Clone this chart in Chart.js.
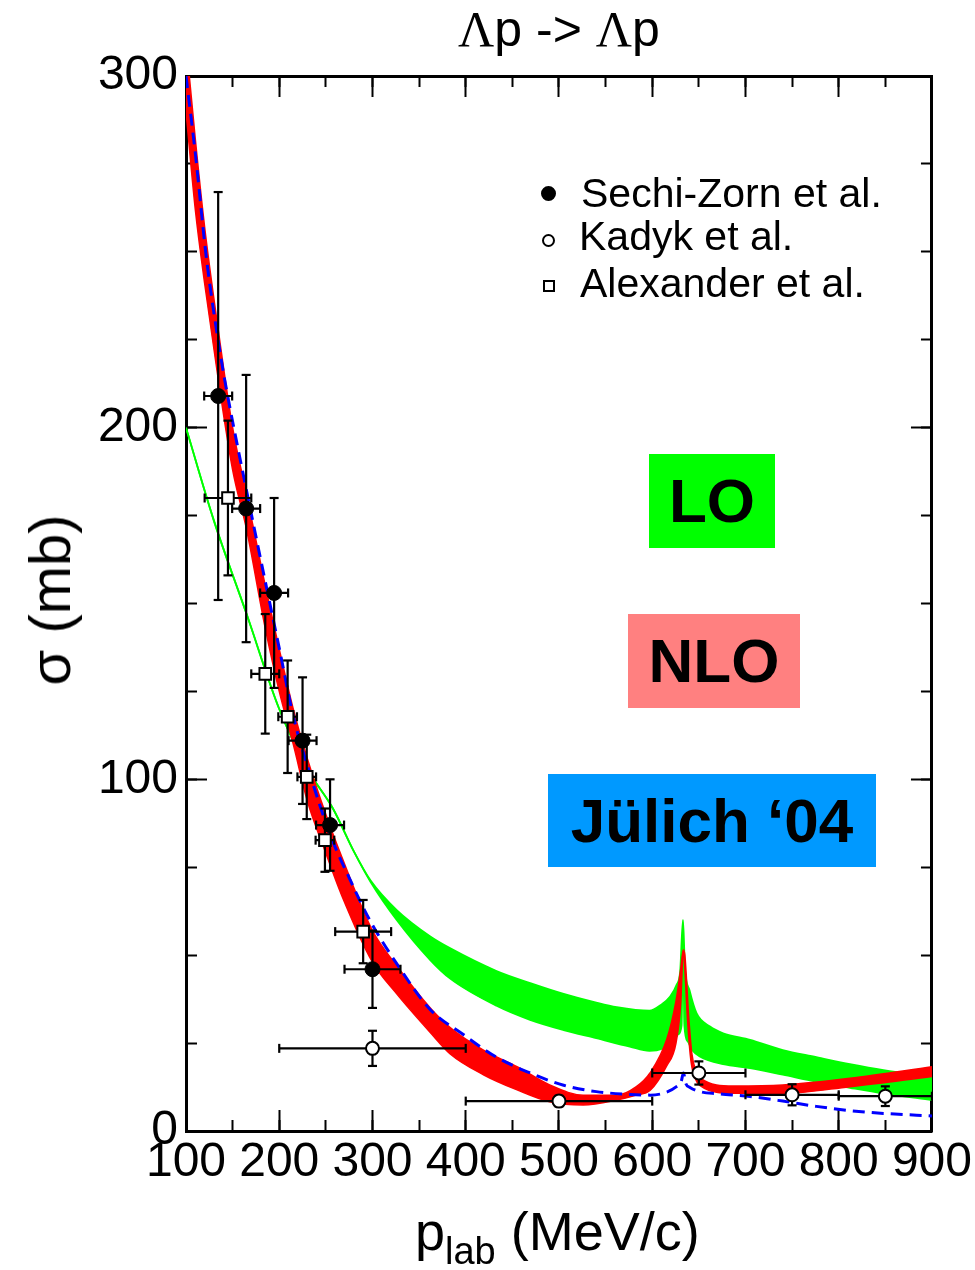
<!DOCTYPE html>
<html lang="es">
<head>
<meta charset="utf-8">
<title>Λp -> Λp</title>
<script src="https://cdn.jsdelivr.net/npm/chart.js@4.4.1/dist/chart.umd.min.js"></script>
<style>
  body { margin: 0; background: #fff; }
  #contenedor { position: relative; width: 975px; height: 1270px; overflow: hidden;
    font-family: "Liberation Sans", Arial, sans-serif; color: #000; }
  #grafico { position: absolute; left: 0; top: 0; }
  .texto { position: absolute; white-space: nowrap; line-height: 1; }
  .caja { position: absolute; display: flex; align-items: center; justify-content: center;
    font-weight: bold; font-size: 62px; line-height: 1; }
  .marca { position: absolute; box-sizing: border-box; border: 2px solid #000; }
</style>
</head>
<body>
<div id="contenedor">
  <canvas id="grafico" width="975" height="1270"></canvas>

  <!-- titulo y ejes -->
  <div class="texto" style="left:559px;top:4px;font-size:50px;transform:translateX(-50%)"><span style="font-family:'Liberation Serif',serif">Λ</span>p -&gt; <span style="font-family:'Liberation Serif',serif">Λ</span>p</div>
  <div class="texto" style="left:50px;top:600px;font-size:58px;transform:translate(-50%,-50%) rotate(-90deg)">σ (mb)</div>
  <div class="texto" style="left:415px;top:1204px;font-size:54px">p<span style="font-size:38px;position:relative;top:14px">lab</span> (MeV/c)</div>

  <!-- leyenda -->
  <div class="marca" style="left:540.5px;top:185.5px;width:15px;height:15px;border-radius:50%;background:#000"></div>
  <div class="texto" style="left:581px;top:173px;font-size:41px">Sechi-Zorn et al.</div>
  <div class="marca" style="left:541.5px;top:233.5px;width:13px;height:13px;border-radius:50%;background:#fff"></div>
  <div class="texto" style="left:579px;top:216px;font-size:41px">Kadyk et al.</div>
  <div class="marca" style="left:542.5px;top:280px;width:12px;height:12px;background:#fff"></div>
  <div class="texto" style="left:580px;top:263px;font-size:41px">Alexander et al.</div>

  <!-- cajas de modelos -->
  <div class="caja" style="left:649px;top:454px;width:126px;height:94px;background:#00ff00">LO</div>
  <div class="caja" style="left:628px;top:614px;width:172px;height:94px;background:#ff8080">NLO</div>
  <div class="caja" style="left:548px;top:774px;width:328px;height:93px;background:#0099ff">Jülich ‘04</div>
</div>

<script>
// Sechi-Zorn et al.
const sechiX = [134.5, 164.5, 194.5, 225, 254.5, 300];
const sechiY = [209, 177, 153, 111, 87, 46];
const sechiErrX = [15, 15, 15, 15, 15, 30];
const sechiErrY = [58, 38, 27, 18, 13, 11];
// Kadyk et al.
const kadykX = [300, 500, 650, 750, 850];
const kadykY = [23.5, 8.5, 16.5, 10.3, 9.9];
const kadykErrX = [100, 100, 50, 50, 50];
const kadykErrY = [5, 1.5, 3.3, 3, 2.8];
// Alexander et al.
const alexX = [145, 185, 209, 229.5, 249, 290];
const alexY = [180, 130, 117.8, 100.7, 82.7, 56.7];
const alexErrX = [25, 15, 10, 10, 10, 30];
const alexErrY = [22, 17, 16, 12, 9, 9];

// Curvas teoricas
// LO (banda verde)
const loArribaX = [100, 130, 165, 200, 230, 258, 280, 298, 326, 362, 383, 433, 470, 505, 540, 562, 597, 610, 619, 626, 630, 633, 635, 640, 647.5, 662, 676, 705, 740, 776, 812, 848, 900];
const loArribaY = [200, 173.5, 147, 120, 103, 91.5, 79.5, 71.2, 62.8, 55.3, 52, 45.5, 42, 39, 36.5, 35.2, 34.2, 36, 38.2, 41.5, 45.5, 60, 46.7, 40, 33.5, 29.7, 27.8, 25.9, 23, 21, 19, 17.3, 15.5];
const loAbajoX = [100, 130, 165, 200, 230, 258, 280, 298, 326, 362, 383, 433, 469, 505, 540, 576, 597, 612, 622, 628, 631.5, 633, 634.5, 638, 643, 651, 676, 705, 740, 776, 812, 848, 900];
const loAbajoY = [200, 173.5, 147, 120, 103, 91.5, 79.5, 70.8, 60, 48.6, 43.4, 35.6, 31.6, 28.7, 26.4, 24, 22.8, 23.5, 25, 27.5, 30, 58, 30, 25.5, 23, 21.2, 19, 17.9, 16, 14, 12.3, 10.7, 8.8];
// NLO (banda roja)
const nloArribaX = [100, 110, 120, 135, 150, 165, 185, 200, 215, 230, 250, 267, 300, 326, 362, 383, 419, 455, 490, 526, 562, 583, 597.6, 615.5, 625.5, 630.5, 633.4, 635, 639, 642.5, 647, 651, 687, 740, 812, 900];
const nloArribaY = [310, 282, 257, 227, 200, 181, 155, 137, 120, 106, 90, 78, 57, 47, 35, 29.5, 23, 18.3, 13.1, 10.2, 10.2, 12.6, 16.5, 26, 37, 46, 51.5, 50, 33, 22, 17, 15.2, 12.8, 13.1, 15, 18.3];
const nloAbajoX = [100, 110, 120, 135, 150, 165, 185, 200, 215, 230, 250, 267, 300, 326, 362, 383, 419, 455, 490, 526, 562, 583, 597.6, 615.5, 625.5, 630.5, 633.4, 634.5, 638, 641.5, 646, 651, 687, 740, 812, 900];
const nloAbajoY = [290, 262, 241, 213, 188, 171, 143, 125, 110, 94, 79, 67, 48, 39, 28, 22, 16, 11.7, 8.3, 7.4, 8.8, 10.2, 11.5, 18.5, 25, 36, 51.5, 48, 31, 20, 15, 13, 10.7, 10.7, 12.6, 15.5];
// Julich '04 (linea azul discontinua)
const julichX = [100, 110, 122, 138, 144, 165, 186, 201, 215, 230, 255, 275, 297, 330, 362, 397, 433, 469, 505, 540, 576, 598, 615, 626, 631, 633.5, 636, 640.5, 651, 670, 705, 740, 776, 812, 848, 900];
const julichY = [300, 278, 248, 219, 210, 182, 155, 136, 118, 104, 84, 72, 60, 46, 34.5, 27.5, 21, 16.5, 13, 11.2, 10.4, 10.2, 11, 12.6, 14, 16.5, 13.5, 12.4, 11.2, 10.6, 9.8, 8.5, 7, 5.8, 5, 4.3];

// Ejes
const ejeXMin = 100, ejeXMax = 900, pasoX = 100, pasoXMenor = 50;
const ejeYMin = 0, ejeYMax = 300, pasoY = 100, pasoYMenor = 25;

function puntos(xs, ys) {
  return xs.map((x, i) => ({ x: x, y: ys[i] }));
}

// lineas de las barras de error (cortadas con null)
function barrasError(xs, ys, ex, ey) {
  const pts = [];
  xs.forEach((x, i) => {
    pts.push({ x: x, y: ys[i] - ey[i] }, { x: x, y: ys[i] + ey[i] }, { x: x, y: null });
    pts.push({ x: x - ex[i], y: ys[i] }, { x: x + ex[i], y: ys[i] }, { x: x, y: null });
  });
  return pts;
}
// topes de las barras verticales
function topesY(xs, ys, ey) {
  const pts = [];
  xs.forEach((x, i) => { pts.push({ x: x, y: ys[i] - ey[i] }, { x: x, y: ys[i] + ey[i] }); });
  return pts;
}
// topes de las barras horizontales
function topesX(xs, ys, ex) {
  const pts = [];
  xs.forEach((x, i) => { pts.push({ x: x - ex[i], y: ys[i] }, { x: x + ex[i], y: ys[i] }); });
  return pts;
}

const barras = [].concat(
  barrasError(sechiX, sechiY, sechiErrX, sechiErrY),
  barrasError(kadykX, kadykY, kadykErrX, kadykErrY),
  barrasError(alexX, alexY, alexErrX, alexErrY));
const capsY = [].concat(topesY(sechiX, sechiY, sechiErrY), topesY(kadykX, kadykY, kadykErrY), topesY(alexX, alexY, alexErrY));
const capsX = [].concat(topesX(sechiX, sechiY, sechiErrX), topesX(kadykX, kadykY, kadykErrX), topesX(alexX, alexY, alexErrX));

const fuenteTicks = { family: 'Liberation Sans', size: 48 };
const rejilla = (largo) => ({ drawOnChartArea: false, drawTicks: true, tickLength: largo, tickWidth: 2, tickColor: '#000' });
const sinTicks = { drawOnChartArea: false, drawTicks: false };

// eje solo con marcas hacia dentro (sin etiquetas)
function ejeMarcas(pos, min, max, paso, largo, borde) {
  const horizontal = pos === 'top' || pos === 'bottom';
  return {
    type: 'linear', position: pos, min: min, max: max, weight: 0,
    ticks: { stepSize: paso, display: false },
    grid: rejilla(largo),
    border: borde ? { color: '#000', width: 3 } : { display: false },
    afterFit: (s) => { if (horizontal) { s.height = 0; } else { s.width = 0; } }
  };
}

const ctx = document.getElementById('grafico').getContext('2d');
new Chart(ctx, {
  type: 'line',
  data: {
    datasets: [
      { label: 'Sechi-Zorn et al.', data: puntos(sechiX, sechiY), showLine: false,
        pointStyle: 'circle', pointRadius: 7.5, pointBackgroundColor: '#000', pointBorderColor: '#000', pointBorderWidth: 1 },
      { label: 'Kadyk et al.', data: puntos(kadykX, kadykY), showLine: false,
        pointStyle: 'circle', pointRadius: 6.5, pointBackgroundColor: '#fff', pointBorderColor: '#000', pointBorderWidth: 2 },
      { label: 'Alexander et al.', data: puntos(alexX, alexY), showLine: false,
        pointStyle: 'rect', pointRadius: 8.2, pointBackgroundColor: '#fff', pointBorderColor: '#000', pointBorderWidth: 2 },
      { label: 'errores', data: barras, borderColor: '#000', borderWidth: 2.2, pointRadius: 0, spanGaps: false, tension: 0 },
      { label: 'topesY', data: capsY, showLine: false, pointStyle: 'line', pointRadius: 4.5,
        pointBorderColor: '#000', pointBorderWidth: 2.2, pointRotation: 0 },
      { label: 'topesX', data: capsX, showLine: false, pointStyle: 'line', pointRadius: 4.5,
        pointBorderColor: '#000', pointBorderWidth: 2.2, pointRotation: 90 },
      { label: "Jülich '04", data: puntos(julichX, julichY), borderColor: '#0000ff', borderWidth: 3,
        borderDash: [12, 7], pointRadius: 0, cubicInterpolationMode: 'monotone' },
      { label: 'NLO abajo', data: puntos(nloAbajoX, nloAbajoY), borderColor: '#ff0000', borderWidth: 1.5,
        pointRadius: 0, cubicInterpolationMode: 'monotone' },
      { label: 'NLO', data: puntos(nloArribaX, nloArribaY), borderColor: '#ff0000', borderWidth: 1.5,
        backgroundColor: '#ff0000', fill: '-1', pointRadius: 0, cubicInterpolationMode: 'monotone' },
      { label: 'LO abajo', data: puntos(loAbajoX, loAbajoY), borderColor: '#00ff00', borderWidth: 1.8,
        pointRadius: 0, cubicInterpolationMode: 'monotone' },
      { label: 'LO', data: puntos(loArribaX, loArribaY), borderColor: '#00ff00', borderWidth: 1.8,
        backgroundColor: '#00ff00', fill: '-1', pointRadius: 0, cubicInterpolationMode: 'monotone' }
    ]
  },
  options: {
    responsive: false,
    animation: false,
    events: [],
    layout: { padding: { top: 76, right: 43, left: 0, bottom: 0 } },
    plugins: { legend: { display: false }, tooltip: { enabled: false }, title: { display: false } },
    scales: {
      x: { type: 'linear', position: 'bottom', min: ejeXMin, max: ejeXMax, weight: 1,
        ticks: { stepSize: pasoX, autoSkip: false, maxRotation: 0, padding: 3, color: '#000', font: fuenteTicks },
        grid: sinTicks, border: { color: '#000', width: 3 },
        afterFit: (s) => { s.height = 139; } },
      xMayor: ejeMarcas('bottom', ejeXMin, ejeXMax, pasoX, -21, false),
      xMenor: ejeMarcas('bottom', ejeXMin, ejeXMax, pasoXMenor, -11, false),
      xArriba: ejeMarcas('top', ejeXMin, ejeXMax, pasoX, -21, true),
      xArribaMenor: ejeMarcas('top', ejeXMin, ejeXMax, pasoXMenor, -11, false),
      y: { type: 'linear', position: 'left', min: ejeYMin, max: ejeYMax, weight: 1,
        ticks: { stepSize: pasoY, padding: 8, color: '#000', font: fuenteTicks },
        grid: sinTicks, border: { color: '#000', width: 3 },
        afterFit: (s) => { s.width = 186; } },
      yMayor: ejeMarcas('left', ejeYMin, ejeYMax, pasoY, -21, false),
      yMenor: ejeMarcas('left', ejeYMin, ejeYMax, pasoYMenor, -11, false),
      yDerecha: ejeMarcas('right', ejeYMin, ejeYMax, pasoY, -21, true),
      yDerechaMenor: ejeMarcas('right', ejeYMin, ejeYMax, pasoYMenor, -11, false)
    }
  }
});
</script>
</body>
</html>
